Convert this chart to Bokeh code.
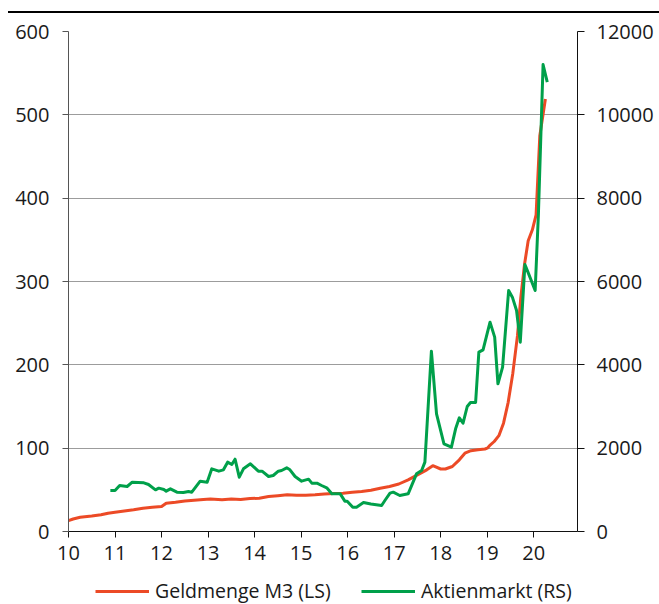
from bokeh.plotting import figure
from bokeh.models import (Range1d, LinearAxis, FixedTicker, Legend, LegendItem, Div)
from bokeh.layouts import column
from bokeh.embed import file_html
from bokeh.resources import INLINE

# Money supply M3 (left scale), time in years (10 = 2010)
m3_x = [10.0, 10.1, 10.25, 10.5, 10.7, 10.85, 11.0, 11.2, 11.4, 11.6, 11.8, 12.0,
        12.1, 12.3, 12.5, 12.7, 12.9, 13.05, 13.3, 13.5, 13.7, 13.9, 14.1, 14.3,
        14.5, 14.7, 14.9, 15.1, 15.3, 15.5, 15.7, 15.9, 16.1, 16.3, 16.5, 16.7,
        16.9, 17.1, 17.3, 17.5, 17.7, 17.83, 18.0, 18.1, 18.25, 18.4, 18.52, 18.65,
        18.8, 18.95, 19.0, 19.05, 19.15, 19.25, 19.35, 19.45, 19.55, 19.65, 19.72,
        19.8, 19.88, 19.97, 20.05, 20.13, 20.25]
m3_val = [13, 15, 17, 18.5, 20, 22, 23, 24.5, 26, 28, 29, 30,
          34, 35, 36.5, 37.5, 38.5, 39, 38, 39, 38.5, 39.5, 40, 42,
          43, 44, 43.5, 43.5, 44, 45, 45.5, 46, 47, 48, 49.5, 52,
          54, 57, 62, 68, 74, 79, 75, 75, 78, 86, 94, 97,
          98, 99, 100, 103, 108, 115, 130, 155, 190, 235, 280,
          320, 349, 362, 380, 475, 519]

# Stock market (right scale)
stk_x = [10.9, 11.0, 11.1, 11.26, 11.37, 11.62, 11.72, 11.87, 11.94, 12.05, 12.1,
         12.19, 12.33, 12.47, 12.58, 12.65, 12.83, 12.98, 13.08, 13.23, 13.33, 13.42,
         13.51, 13.58, 13.67, 13.76, 13.91, 14.08, 14.16, 14.3, 14.4, 14.51, 14.58,
         14.69, 14.76, 14.87, 15.01, 15.16, 15.23, 15.34, 15.44, 15.55, 15.66, 15.84,
         15.94, 15.99, 16.11, 16.19, 16.34, 16.5, 16.73, 16.8, 16.91, 16.98, 17.12,
         17.3, 17.48, 17.59, 17.66, 17.8, 17.91, 18.07, 18.23, 18.32, 18.4, 18.48,
         18.57, 18.64, 18.75, 18.82, 18.91, 19.06, 19.16, 19.23, 19.33, 19.46, 19.54,
         19.63, 19.71, 19.81, 19.89, 20.03, 20.1, 20.2, 20.29]
stk_val = [984, 984, 1104, 1080, 1184, 1168, 1128, 1000, 1040, 1008, 968,
           1024, 944, 936, 960, 944, 1208, 1184, 1504, 1448, 1480, 1664,
           1608, 1736, 1304, 1504, 1624, 1448, 1448, 1320, 1344, 1448, 1464,
           1528, 1480, 1320, 1208, 1256, 1160, 1160, 1104, 1048, 904, 904,
           728, 728, 584, 584, 696, 660, 624, 744, 920, 944, 864,
           904, 1384, 1464, 1664, 4328, 2824, 2104, 2024, 2464, 2728, 2600,
           3000, 3096, 3096, 4304, 4360, 5024, 4664, 3544, 3944, 5784, 5624,
           5304, 4544, 6408, 6184, 5784, 7624, 11208, 10784]

x_ticks = list(range(10, 21))
left_ticks = [0, 100, 200, 300, 400, 500, 600]
right_ticks = [0, 2000, 4000, 6000, 8000, 10000, 12000]

labels = ["Geldmenge M3 (LS)", "Aktienmarkt (RS)"]

RED = "#ec4a26"
GREEN = "#00a04a"
FONT = "Open Sans"
TXT = "#1a1a1a"

p = figure(width=659, height=561, output_backend="svg", toolbar_location=None,
           x_range=Range1d(10, 20.94), y_range=Range1d(0, 600),
           min_border_left=68, min_border_right=82, min_border_top=18,
           min_border_bottom=43, margin=0)
p.extra_y_ranges = {"rs": Range1d(0, 12000)}
p.outline_line_color = None
p.background_fill_color = "white"
p.border_fill_color = "white"

p.line(m3_x, m3_val, line_color=RED, line_width=3, line_join="round")
p.line(stk_x, stk_val, line_color=GREEN, line_width=3, line_join="round",
       y_range_name="rs")

p.xgrid.visible = False
p.ygrid.ticker = FixedTicker(ticks=left_ticks[1:])
p.ygrid.grid_line_color = "#9c9c9c"
p.ygrid.grid_line_width = 1

xa = p.xaxis[0]
xa.ticker = FixedTicker(ticks=x_ticks)
xa.axis_line_color = "#111111"
xa.major_tick_line_color = "#111111"
xa.major_tick_out = 6
xa.major_tick_in = 0
xa.minor_tick_line_color = None
xa.major_label_standoff = 8

ya = p.yaxis[0]
ya.ticker = FixedTicker(ticks=left_ticks)
ya.axis_line_color = "#555555"
ya.major_tick_line_color = "#555555"
ya.major_tick_out = 6
ya.major_tick_in = 0
ya.minor_tick_line_color = None
ya.major_label_standoff = 13

ra = LinearAxis(y_range_name="rs", ticker=FixedTicker(ticks=right_ticks))
ra.axis_line_color = "#111111"
ra.major_tick_line_color = "#111111"
ra.major_tick_out = 7
ra.major_tick_in = 0
ra.minor_tick_line_color = None
ra.major_label_standoff = 12
p.add_layout(ra, "right")

for ax in (xa, ya, ra):
    ax.major_label_text_font = FONT
    ax.major_label_text_font_size = "20px"
    ax.major_label_text_color = TXT

# legend strip under the chart; its key renderers carry the series but the
# strip's ranges keep the lines themselves out of view
leg_fig = figure(width=659, height=30, output_backend="svg", toolbar_location=None,
                 x_range=Range1d(0, 1), y_range=Range1d(0, 1),
                 x_axis_type=None, y_axis_type=None, min_border=0, margin=0)
leg_fig.outline_line_color = None
leg_fig.grid.visible = False
k_m3 = leg_fig.line(m3_x, m3_val, line_color=RED, line_width=3)
k_stk = leg_fig.line(stk_x, stk_val, line_color=GREEN, line_width=3)

legend = Legend(items=[LegendItem(label=labels[0], renderers=[k_m3]),
                       LegendItem(label=labels[1], renderers=[k_stk])],
                orientation="horizontal", location=(27, 0),
                glyph_width=54, glyph_height=20, label_standoff=6, spacing=28,
                label_width=178, padding=2, margin=0, border_line_color=None,
                background_fill_alpha=0,
                label_text_font=FONT, label_text_font_size="19.5px",
                label_text_color=TXT)
leg_fig.add_layout(legend)

rule = Div(text='<div style="width:651px;height:0;margin-left:8px;margin-top:11px;'
                'border-top:2px solid #000"></div>', width=659, height=13, margin=0)

page = column(rule, p, leg_fig, spacing=0)

open("out.html", "w").write(file_html(page, INLINE))
